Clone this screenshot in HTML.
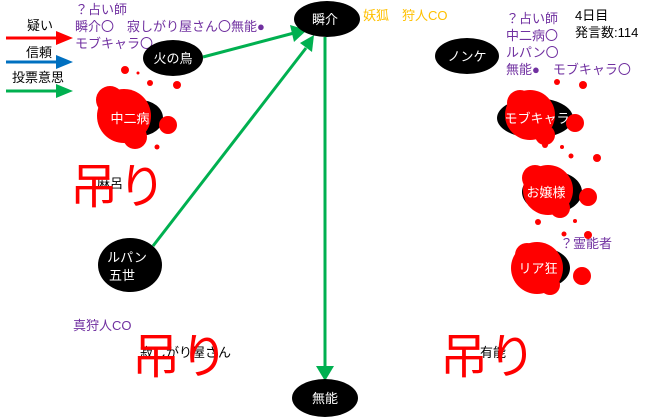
<!DOCTYPE html>
<html><head><meta charset="utf-8"><style>
html,body{margin:0;padding:0;background:#fff;}
svg{display:block;font-family:"Liberation Sans","Noto Sans CJK JP",sans-serif;}
</style></head><body>
<svg width="660" height="418" viewBox="0 0 660 418" xmlns="http://www.w3.org/2000/svg">
<defs>
<marker id="g" markerWidth="10" markerHeight="10" refX="9" refY="5" orient="auto" markerUnits="userSpaceOnUse"><path d="M0,0 L12,5 L0,10 z" fill="#00b050" transform="scale(1.3) translate(-2,-1.2)"/></marker>
</defs>
<!-- legend -->
<text x="27" y="30" font-size="13" fill="#000">疑い</text>
<line x1="6" y1="38" x2="58" y2="38" stroke="#ff0000" stroke-width="3"/><path d="M56,31 L73,38 L56,45z" fill="#ff0000"/>
<text x="26" y="57" font-size="13" fill="#000">信頼</text>
<line x1="6" y1="62" x2="58" y2="62" stroke="#0070c0" stroke-width="3"/><path d="M56,55 L73,62 L56,69z" fill="#0070c0"/>
<text x="12" y="82" font-size="13" fill="#000">投票意思</text>
<line x1="6" y1="91" x2="58" y2="91" stroke="#00b050" stroke-width="3"/><path d="M56,84 L73,91 L56,98z" fill="#00b050"/>

<!-- purple texts -->
<g font-size="13" fill="#7030a0">
<text x="75" y="14">？占い師</text>
<text x="75" y="31">瞬介〇　寂しがり屋さん〇無能●</text>
<text x="75" y="48">モブキャラ〇</text>
<text x="506" y="23">？占い師</text>
<text x="506" y="40">中二病〇</text>
<text x="506" y="57">ルパン〇</text>
<text x="506" y="74">無能●　モブキャラ〇</text>
<text x="560" y="248">？霊能者</text>
<text x="73" y="330">真狩人CO</text>
</g>
<text x="363" y="20" font-size="13" fill="#ffc000">妖狐　狩人CO</text>
<text x="575" y="20" font-size="13" fill="#000">4日目</text>
<text x="575" y="37" font-size="13" fill="#000">発言数:114</text>

<!-- arrows -->
<line x1="203" y1="57" x2="294" y2="33" stroke="#00b050" stroke-width="3"/>
<path d="M290,25 L307,30 L294,42z" fill="#00b050"/>
<line x1="153" y1="246" x2="306" y2="48" stroke="#00b050" stroke-width="3"/>
<path d="M300,43 L314,35 L312,52z" fill="#00b050"/>
<line x1="325" y1="37" x2="325" y2="368" stroke="#00b050" stroke-width="3"/>
<path d="M316,366 L334,366 L325,381z" fill="#00b050"/>

<!-- nodes -->
<g fill="#000">
<ellipse cx="327" cy="19" rx="33" ry="18"/>
<ellipse cx="173" cy="58" rx="30" ry="18"/>
<ellipse cx="467" cy="56" rx="32" ry="18"/>
<ellipse cx="130" cy="265" rx="32" ry="27"/>
<ellipse cx="325" cy="398" rx="33" ry="19"/>
<ellipse cx="140" cy="118" rx="23" ry="18"/>
<ellipse cx="535" cy="118" rx="38" ry="20"/>
<ellipse cx="552" cy="192" rx="30" ry="21"/>
<ellipse cx="542" cy="268" rx="28" ry="20"/>
</g>
<g font-size="13" fill="#fff" text-anchor="middle">
<text x="325" y="24">瞬介</text>
<text x="173" y="63">火の鳥</text>
<text x="467" y="61">ノンケ</text>
<text x="325" y="403">無能</text>
<text x="127" y="262">ルパン</text>
<text x="122" y="280">五世</text>
</g>

<!-- blood blobs -->
<g fill="#ff0000">
<circle cx="124" cy="116" r="27"/><circle cx="110" cy="100" r="14"/><circle cx="135" cy="137" r="12"/><circle cx="168" cy="125" r="9"/><circle cx="125" cy="70" r="4"/><circle cx="150" cy="83" r="3"/><circle cx="177" cy="85" r="4"/><circle cx="157" cy="147" r="2.5"/><circle cx="138" cy="73" r="1.5"/>
<circle cx="530" cy="115" r="25"/><circle cx="520" cy="103" r="13"/><circle cx="545" cy="135" r="10"/><circle cx="575" cy="123" r="9"/><circle cx="557" cy="82" r="3"/><circle cx="583" cy="85" r="4"/><circle cx="545" cy="145" r="3"/><circle cx="562" cy="147" r="2"/>
<circle cx="548" cy="190" r="25"/><circle cx="535" cy="178" r="13"/><circle cx="560" cy="208" r="10"/><circle cx="588" cy="197" r="9"/><circle cx="597" cy="158" r="4"/><circle cx="571" cy="156" r="2.5"/><circle cx="538" cy="222" r="3"/><circle cx="575" cy="221" r="2"/>
<circle cx="537" cy="268" r="26"/><circle cx="527" cy="255" r="12"/><circle cx="550" cy="285" r="10"/><circle cx="582" cy="276" r="9"/><circle cx="588" cy="235" r="4"/><circle cx="564" cy="234" r="2.5"/>
</g>
<g font-size="13" fill="#fff" text-anchor="middle">
<text x="130" y="123">中二病</text>
<text x="537" y="123">モブキャラ</text>
<text x="546" y="197">お嬢様</text>
<text x="538" y="273">リア狂</text>
</g>

<!-- hanged names -->
<g font-size="13" fill="#000">
<text x="97" y="188">麻呂</text>
<text x="140" y="357">寂しがり屋さん</text>
<text x="480" y="357">有能</text>
</g>
<g font-size="48" fill="#ff0000">
<text x="70" y="203">吊り</text>
<text x="132" y="373">吊り</text>
<text x="440" y="373">吊り</text>
</g>
</svg>
</body></html>
